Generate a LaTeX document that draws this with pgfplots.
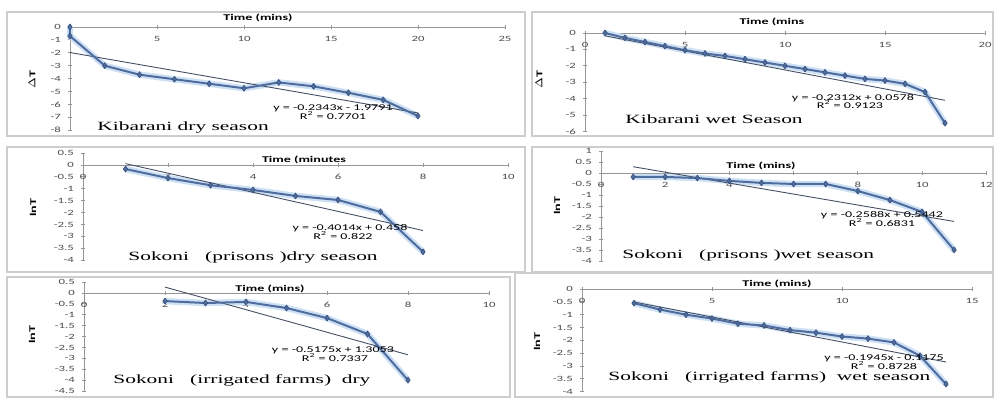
\documentclass[border=0pt]{standalone}
\usepackage{fontspec}
\usepackage{pgfplots}
\pgfplotsset{compat=1.18}
\setmainfont{Liberation Serif}
\newfontfamily\titlefont[FakeStretch=1.7]{Liberation Serif}
\newfontfamily\lblfont[FakeStretch=1.6]{Carlito}
\definecolor{dataline}{RGB}{79,108,158}
\definecolor{datamark}{RGB}{55,80,125}
\definecolor{glow}{RGB}{205,224,244}
\definecolor{trend}{RGB}{70,80,100}
\definecolor{framec}{RGB}{205,205,205}
\definecolor{axisgray}{RGB}{150,150,150}
\pgfplotsset{
  panel/.style={
    scale only axis, anchor=south west,
    axis lines=middle, axis line style={-, draw=axisgray, line width=0.45pt},
    hide obscured x ticks=false, hide obscured y ticks=false,
    major tick length=2pt, tick style={draw=axisgray, line width=0.45pt},
    tick label style={font=\lblfont\fontsize{4}{4.5}\selectfont, text=black!70},
    /pgf/number format/assume math mode=true,
    clip=false,
  },
  glowline/.style={glow, line width=3.2pt, line join=round},
  datal/.style={dataline, line width=1pt, line join=round, mark=diamond*, mark size=1.5pt, mark options={fill=dataline, draw=datamark, line width=0.3pt}},
  trendl/.style={trend, line width=0.45pt},
}
\newcommand{\ttl}[1]{{\titlefont\fontsize{6.3}{7}\selectfont #1}}
\newcommand{\axt}[1]{{\lblfont\bfseries\fontsize{4.4}{5}\selectfont #1}}
\newcommand{\eqt}[1]{{\lblfont\fontsize{4.4}{5}\selectfont #1}}
\begin{document}
\begin{tikzpicture}
\path[use as bounding box] (0,0) rectangle (499pt,-199.5pt);
\begin{scope}[x=0.5pt,y=-0.5pt]
\draw[framec, line width=0.6pt] (7,12) rectangle (525,136);
\draw[framec, line width=0.6pt] (532,12) rectangle (993,136);
\draw[framec, line width=0.6pt] (7,147) rectangle (525,272);
\draw[framec, line width=0.6pt] (532,147) rectangle (993,272);
\draw[framec, line width=0.6pt] (7,277) rectangle (510,397);
\draw[framec, line width=0.6pt] (515,273) rectangle (993,397);
\coordinate (a1) at (70,130.2);
\coordinate (a2) at (585,131.4);
\coordinate (a3) at (83,260.2);
\coordinate (a4) at (601,261);
\coordinate (a5) at (84,391.1);
\coordinate (a6) at (582,391.8);
\end{scope}

% Panel 1: Kibarani dry season
\begin{axis}[panel, at={(a1)}, x=8.7pt, y=6.45pt, xmin=0, xmax=25, ymin=-8, ymax=0,
  xtick={5,10,15,20,25}, ytick={-8,-7,-6,-5,-4,-3,-2,-1,0}]
\addplot[glowline] coordinates {(0,0)(0,-0.7)(2,-3)(4,-3.7)(6,-4.05)(8,-4.4)(10,-4.75)(12,-4.3)(14,-4.6)(16,-5.1)(18,-5.65)(20,-6.9)};
\addplot[trendl] coordinates {(0,-1.9791)(20,-6.6651)};
\addplot[datal] coordinates {(0,0)(0,-0.7)(2,-3)(4,-3.7)(6,-4.05)(8,-4.4)(10,-4.75)(12,-4.3)(14,-4.6)(16,-5.1)(18,-5.65)(20,-6.9)};
\end{axis}

% Panel 2: Kibarani wet season
\begin{axis}[panel, at={(a2)}, x=10pt, y=8.2pt, xmin=0, xmax=20, ymin=-6, ymax=0,
  xtick={0,5,10,15,20}, ytick={-6,-5,-4,-3,-2,-1,0}]
\addplot[glowline] coordinates {(1,0)(2,-0.3)(3,-0.55)(4,-0.8)(5,-1.05)(6,-1.25)(7,-1.4)(8,-1.6)(9,-1.8)(10,-2.0)(11,-2.2)(12,-2.4)(13,-2.6)(14,-2.8)(15,-2.9)(16,-3.1)(17,-3.6)(18,-5.5)};
\addplot[trendl] coordinates {(1,-0.1734)(18,-4.1038)};
\addplot[datal] coordinates {(1,0)(2,-0.3)(3,-0.55)(4,-0.8)(5,-1.05)(6,-1.25)(7,-1.4)(8,-1.6)(9,-1.8)(10,-2.0)(11,-2.2)(12,-2.4)(13,-2.6)(14,-2.8)(15,-2.9)(16,-3.1)(17,-3.6)(18,-5.5)};
\end{axis}

% Panel 3: Sokoni prisons dry
\begin{axis}[panel, at={(a3)}, x=21.25pt, y=11.9pt, xmin=0, xmax=10, ymin=-4, ymax=0.5,
  xtick={0,2,4,6,8,10}, ytick={-4,-3.5,-3,-2.5,-2,-1.5,-1,-0.5,0,0.5}]
\addplot[glowline] coordinates {(1,-0.17)(2,-0.55)(3,-0.85)(4,-1.05)(5,-1.3)(6,-1.47)(7,-1.97)(8,-3.65)};
\addplot[trendl] coordinates {(1,0.0566)(8,-2.7532)};
\addplot[datal] coordinates {(1,-0.17)(2,-0.55)(3,-0.85)(4,-1.05)(5,-1.3)(6,-1.47)(7,-1.97)(8,-3.65)};
\end{axis}

% Panel 4: Sokoni prisons wet
\begin{axis}[panel, at={(a4)}, x=16.05pt, y=11pt, xmin=0, xmax=12, ymin=-4, ymax=1,
  xtick={0,2,4,6,8,10,12}, ytick={-4,-3.5,-3,-2.5,-2,-1.5,-1,-0.5,0,0.5,1}]
\addplot[glowline] coordinates {(1,-0.18)(2,-0.18)(3,-0.23)(4,-0.36)(5,-0.45)(6,-0.5)(7,-0.5)(8,-0.82)(9,-1.23)(10,-1.77)(11,-3.5)};
\addplot[trendl] coordinates {(1,0.2854)(11,-2.2026)};
\addplot[datal] coordinates {(1,-0.18)(2,-0.18)(3,-0.23)(4,-0.36)(5,-0.45)(6,-0.5)(7,-0.5)(8,-0.82)(9,-1.23)(10,-1.77)(11,-3.5)};
\end{axis}

% Panel 5: Sokoni irrigated farms dry
\begin{axis}[panel, at={(a5)}, x=20.25pt, y=10.9pt, xmin=0, xmax=10, ymin=-4.5, ymax=0.5,
  xtick={0,2,4,6,8,10}, ytick={-4.5,-4,-3.5,-3,-2.5,-2,-1.5,-1,-0.5,0,0.5}]
\addplot[glowline] coordinates {(2,-0.37)(3,-0.46)(4,-0.41)(5,-0.69)(6,-1.15)(7,-1.88)(8,-4.0)};
\addplot[trendl] coordinates {(2,0.2703)(8,-2.8347)};
\addplot[datal] coordinates {(2,-0.37)(3,-0.46)(4,-0.41)(5,-0.69)(6,-1.15)(7,-1.88)(8,-4.0)};
\end{axis}

% Panel 6: Sokoni irrigated farms wet
\begin{axis}[panel, at={(a6)}, x=13pt, y=12.85pt, xmin=0, xmax=15, ymin=-4, ymax=0,
  xtick={0,5,10,15}, ytick={-4,-3.5,-3,-2.5,-2,-1.5,-1,-0.5,0}]
\addplot[glowline] coordinates {(2,-0.55)(3,-0.8)(4,-1.0)(5,-1.15)(6,-1.35)(7,-1.42)(8,-1.6)(9,-1.7)(10,-1.85)(11,-1.93)(12,-2.08)(13,-2.6)(14,-3.7)};
\addplot[trendl] coordinates {(2,-0.5065)(14,-2.8405)};
\addplot[datal] coordinates {(2,-0.55)(3,-0.8)(4,-1.0)(5,-1.15)(6,-1.35)(7,-1.42)(8,-1.6)(9,-1.7)(10,-1.85)(11,-1.93)(12,-2.08)(13,-2.6)(14,-3.7)};
\end{axis}

\begin{scope}[x=0.5pt,y=-0.5pt]
% panel 1 texts
\node at (258,18) {\axt{Time (mins)}};
\node[rotate=90] at (32,80) {\axt{$\Delta$T}};
\node at (333,108) {\eqt{y = -0.2343x - 1.9791}};
\node at (333,115.5) {\eqt{R\textsuperscript{2} = 0.7701}};
\node[anchor=west, inner sep=0] at (97,127) {\ttl{Kibarani dry season}};
% panel 2
\node at (772,22) {\axt{Time (mins}};
\node[rotate=90] at (539,80) {\axt{$\Delta$T}};
\node at (853,98) {\eqt{y = -0.2312x + 0.0578}};
\node at (850,105) {\eqt{R\textsuperscript{2} = 0.9123}};
\node[anchor=west, inner sep=0] at (625,119) {\ttl{Kibarani wet Season}};
% panel 3
\node at (304,160) {\axt{Time (minutes}};
\node[rotate=90] at (33,208) {\axt{lnT}};
\node at (350,228) {\eqt{y = -0.4014x + 0.458}};
\node at (343,236) {\eqt{R\textsuperscript{2} = 0.822}};
\node[anchor=west, inner sep=0] at (128,257) {\ttl{Sokoni\ \ \ (prisons )dry season}};
% panel 4
\node at (761,166) {\axt{Time (mins)}};
\node[rotate=90] at (557,206) {\axt{lnT}};
\node at (882,215) {\eqt{y = -0.2588x + 0.5442}};
\node at (882,223) {\eqt{R\textsuperscript{2} = 0.6831}};
\node[anchor=west, inner sep=0] at (622,255) {\ttl{Sokoni\ \ \ (prisons )wet season}};
% panel 5
\node at (270,289) {\axt{Time (mins)}};
\node[rotate=90] at (32,335) {\axt{lnT}};
\node at (333,350) {\eqt{y = -0.5175x + 1.3053}};
\node at (335,358) {\eqt{R\textsuperscript{2} = 0.7337}};
\node[anchor=west, inner sep=0] at (113,380) {\ttl{Sokoni\ \ \ (irrigated farms)\ \ dry}};
% panel 6
\node at (777,284) {\axt{Time (mins)}};
\node[rotate=90] at (537,342) {\axt{lnT}};
\node at (884,358) {\eqt{y = -0.1945x - 0.1175}};
\node at (884,366) {\eqt{R\textsuperscript{2} = 0.8728}};
\node[anchor=west, inner sep=0] at (608,377) {\ttl{Sokoni\ \ \ (irrigated farms)\ \ wet season}};
\end{scope}
\end{tikzpicture}
\end{document}
